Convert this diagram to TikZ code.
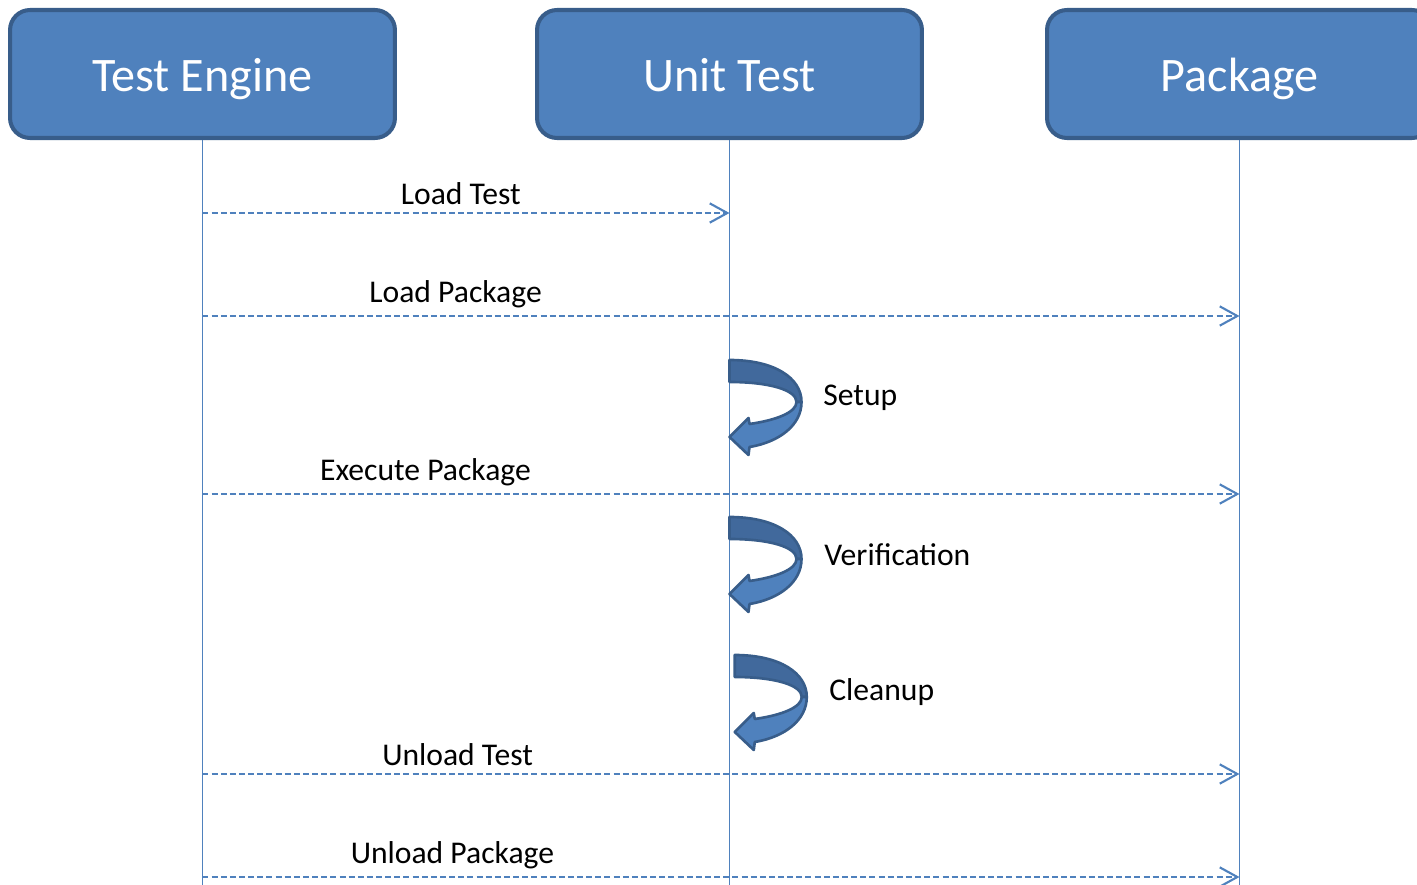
\documentclass[tikz,border=0pt]{standalone}
\usepackage{fontspec}
\setmainfont{Carlito}
\usetikzlibrary{arrows.meta}
\definecolor{boxfill}{HTML}{4F81BD}
\definecolor{boxline}{HTML}{385D8A}
\definecolor{ribbonback}{HTML}{41699C}
\tikzset{
  head/.style={draw=boxline, line width=2.3pt, fill=boxfill, rounded corners=0.4cm,
    minimum width=7.7cm, minimum height=2.56cm, text=white, text height=20pt, text depth=0pt,
    font=\fontsize{27.4}{31}\selectfont},
  lifeline/.style={draw=boxfill, line width=1.1pt},
  msg/.style={draw=boxfill, line width=1.2pt, dash pattern=on 3.4pt off 1.8pt,
    -{Straight Barb[length=10pt,width=11pt,line width=1.2pt]}},
  msglabel/.style={above, font=\fontsize{18}{21}\selectfont, inner sep=1pt, yshift=3pt},
  looplabel/.style={anchor=west, font=\fontsize{18}{21}\selectfont, inner sep=0pt},
  selfloop/.pic={
    \filldraw[fill=ribbonback, draw=boxline, line width=1.5pt, line join=round]
      (0,0) .. controls (45,0) and (72,18) .. (72,42) -- (67,42)
      .. controls (67,30) and (40,22) .. (0,22) -- cycle;
    \filldraw[fill=boxfill, draw=boxline, line width=1.5pt, line join=round]
      (72,42) .. controls (72,65) and (50,82) .. (20,87) -- (19,95) -- (0,77)
      -- (19,58) -- (20,64) .. controls (48,60) and (67,52) .. (67,42) -- cycle;
  }
}
\begin{document}
\begin{tikzpicture}[x=0.02cm, y=-0.02cm]
\useasboundingbox (0,0) rectangle (1417,885);

\node[head] (te) at (202.5,74) {Test Engine};
\node[head] (ut) at (729.5,74) {Unit Test};
\node[head] (pkg) at (1239.5,74) {Package};

\coordinate (bottom) at (0,885);
\draw[lifeline] (te.south) -- (te |- bottom);
\draw[lifeline] (ut.south) -- (ut |- bottom);
\draw[lifeline] (pkg.south) -- (pkg |- bottom);

\coordinate (m1) at (0,213);
\coordinate (m2) at (0,316);
\coordinate (m3) at (0,494);
\coordinate (m4) at (0,774);
\coordinate (m5) at (0,877);
\coordinate (s1) at (0,360);
\coordinate (s2) at (0,517);
\coordinate (s3) at (0,655);

\draw[msg] (te |- m1) -- (ut |- m1) node[msglabel, pos=0.49] {Load Test};
\draw[msg] (te |- m2) -- (pkg |- m2) node[msglabel, pos=0.244] {Load Package};
\draw[msg] (te |- m3) -- (pkg |- m3) node[msglabel, pos=0.215] {Execute Package};
\draw[msg] (te |- m4) -- (pkg |- m4) node[msglabel, pos=0.246] {Unload Test};
\draw[msg] (te |- m5) -- (pkg |- m5) node[msglabel, pos=0.241] {Unload Package};

\pic at (ut |- s1) {selfloop};
\pic at (ut |- s2) {selfloop};
\pic at ([xshift=3] ut |- s3) {selfloop};

\node[looplabel] (setup) at (823,398) {Setup};
\node[looplabel] (verif) at (824,555) {Verification};
\node[looplabel] (clean) at (829,692) {Cleanup};

\end{tikzpicture}
\end{document}
